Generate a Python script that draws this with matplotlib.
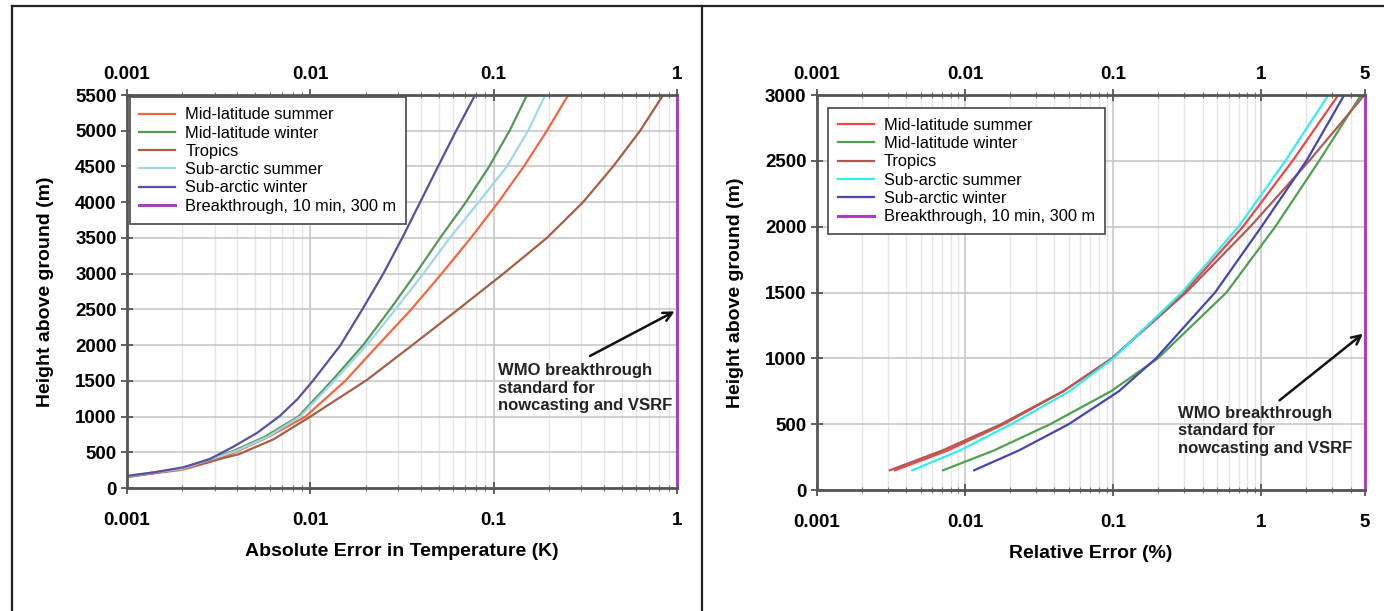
import matplotlib.pyplot as plt
from matplotlib.lines import Line2D
from matplotlib.ticker import LogLocator, NullFormatter, NullLocator, FixedLocator

plt.rcParams['font.family'] = ['Liberation Sans', 'DejaVu Sans']

# ---------- panel izquierdo: error absoluto (K) vs altura (m) ----------
mls_izq_x = [0.001, 0.0014, 0.002, 0.0028, 0.0038, 0.0058, 0.0094, 0.0155, 0.0234, 0.0355, 0.052, 0.075, 0.106, 0.146, 0.195, 0.255]
mls_izq_h = [160, 205, 255, 360, 490, 705, 1000, 1500, 2000, 2500, 3000, 3500, 4000, 4500, 5000, 5500]
mlw_izq_x = [0.001, 0.0014, 0.002, 0.0038, 0.00562, 0.0086, 0.0132, 0.0194, 0.0272, 0.0375, 0.051, 0.0705, 0.0945, 0.122, 0.152]
mlw_izq_h = [160, 218, 274, 518, 714, 1000, 1511, 2000, 2500, 3000, 3500, 4000, 4500, 5000, 5500]
tro_izq_x = [0.001, 0.002, 0.0041, 0.0063, 0.01, 0.0203, 0.036, 0.064, 0.113, 0.195, 0.307, 0.448, 0.629, 0.84]
tro_izq_h = [150, 270, 476, 682, 1000, 1511, 2000, 2500, 3000, 3500, 4000, 4500, 5000, 5500]
sas_izq_x = [0.001, 0.0014, 0.002, 0.0039, 0.0058, 0.0088, 0.0136, 0.0203, 0.0291, 0.0413, 0.0576, 0.0828, 0.118, 0.154, 0.191]
sas_izq_h = [160, 215, 270, 515, 712, 1000, 1511, 2000, 2500, 3000, 3500, 4000, 4500, 5000, 5500]
saw_izq_x = [0.001, 0.00141, 0.00203, 0.00282, 0.0038, 0.00513, 0.0068, 0.00851, 0.0104, 0.0146, 0.0192, 0.0250, 0.0317, 0.0397, 0.0497, 0.0624, 0.0792]
saw_izq_h = [170, 220, 290, 404, 578, 773, 1007, 1245, 1511, 2000, 2500, 3000, 3500, 4000, 4500, 5000, 5500]
brk_izq_x = [1, 1]
brk_izq_h = [0, 5500]

# ---------- panel derecho: error relativo (%) vs altura (m) ----------
alt_der = [150, 300, 500, 750, 1000, 1500, 2000, 2500, 3000]
mls_der = [0.00336, 0.0076, 0.0182, 0.046, 0.098, 0.30, 0.75, 1.62, 3.3]
mlw_der = [0.0071, 0.0156, 0.0375, 0.0964, 0.20, 0.58, 1.24, 2.45, 4.7]
tro_der = [0.0031, 0.0070, 0.0175, 0.0457, 0.098, 0.31, 0.84, 2.1, 4.95]
sas_der = [0.0044, 0.0092, 0.0205, 0.0505, 0.10, 0.29, 0.70, 1.45, 2.83]
saw_der = [0.0115, 0.023, 0.05, 0.109, 0.194, 0.486, 1.0, 2.01, 3.62]
brk_der_x = [5, 5]
brk_der_h = [0, 3000]

etiquetas = ['Mid-latitude summer', 'Mid-latitude winter', 'Tropics',
             'Sub-arctic summer', 'Sub-arctic winter', 'Breakthrough, 10 min, 300 m']
colores_izq = ['#f5653f', '#54995a', '#a65f45', '#9fd6ea', '#5a4fa0', '#a044b8']
colores_der = ['#f04545', '#4fa04f', '#b05a55', '#30eef2', '#4545b0', '#a840c0']

ticks_izq_x = [0.001, 0.01, 0.1, 1]
ticks_der_x = [0.001, 0.01, 0.1, 1, 5]
ticks_izq_y = list(range(0, 5501, 500))
ticks_der_y = list(range(0, 3001, 500))

texto_wmo = 'WMO breakthrough\nstandard for\nnowcasting and VSRF'

fig = plt.figure(figsize=(13.84, 6.11), dpi=100)

# marco tipo tabla
for xs, ys in [([0.0087, 0.0087], [0, 0.990]), ([0.507, 0.507], [0, 0.990]), ([0.0087, 1.0], [0.990, 0.990])]:
    fig.add_artist(Line2D(xs, ys, color='#222222', lw=1.6, transform=fig.transFigure))


def armar_panel(ax, series, colores, brk, xlim, ylim, xticks, yticks, xlabel,
                flecha, pos_texto, pos_leyenda, pad_leyenda):
    for (x, y), c, lab in zip(series, colores, etiquetas[:5]):
        ax.plot(x, y, color=c, lw=1.6, label=lab)
    ax.plot(brk[0], brk[1], color=colores[5], lw=2.2, label=etiquetas[5], clip_on=False)

    ax.set_xscale('log')
    ax.set_xlim(*xlim)
    ax.set_ylim(*ylim)
    ax.xaxis.set_major_locator(FixedLocator(xticks))
    ax.set_xticklabels([f'{t:g}' for t in xticks])
    ax.xaxis.set_minor_locator(LogLocator(base=10, subs=range(2, 10)))
    ax.xaxis.set_minor_formatter(NullFormatter())
    ax.set_yticks(yticks)

    ax.grid(which='major', color='#c8c8c8', lw=1.2)
    ax.grid(which='minor', axis='x', color='#e6e6e6', lw=1.0)
    ax.set_axisbelow(True)

    for lado in ['left', 'top', 'bottom']:
        ax.spines[lado].set_color('#555555')
        ax.spines[lado].set_linewidth(2.0)
    ax.spines['right'].set_visible(False)

    ax.tick_params(which='major', direction='inout', length=9, width=1.3, color='#555555',
                   labelsize=13.5, top=True, right=False)
    ax.tick_params(which='minor', direction='inout', length=4, width=0.8, color='#777777',
                   top=True, left=False, right=False)
    ax.tick_params(axis='x', which='major', pad=13)
    ax.tick_params(axis='y', which='major', pad=3)
    for t in ax.get_xticklabels() + ax.get_yticklabels():
        t.set_fontweight('bold')

    # etiquetas de arriba
    sec = ax.secondary_xaxis('top')
    sec.xaxis.set_major_locator(FixedLocator(xticks))
    sec.set_xticklabels([f'{t:g}' for t in xticks], fontweight='bold')
    sec.xaxis.set_minor_locator(NullLocator())
    sec.tick_params(length=0, labelsize=13.5, pad=9)
    sec.spines['top'].set_visible(False)

    ax.set_xlabel(xlabel, fontsize=14, fontweight='bold', labelpad=10)
    ax.set_ylabel('Height above ground (m)', fontsize=14, fontweight='bold', labelpad=15)

    leg = ax.legend(loc='upper left', bbox_to_anchor=pos_leyenda, fontsize=11.8,
                    labelspacing=0.2, handlelength=2.2, handletextpad=0.6, borderpad=0.6,
                    borderaxespad=pad_leyenda, fancybox=False, framealpha=1,
                    edgecolor='#555555')
    leg.get_frame().set_linewidth(1.3)

    ax.annotate('', xy=flecha[0], xytext=flecha[1],
                arrowprops=dict(arrowstyle='->', color='#111111', lw=1.8,
                                mutation_scale=16))
    ax.text(pos_texto[0], pos_texto[1], texto_wmo, fontsize=12, fontweight='bold',
            va='top', ha='left', linespacing=1.2, color='#222222')


ax1 = fig.add_axes([0.0918, 0.2013, 0.3974, 0.6432])
armar_panel(ax1,
            [(mls_izq_x, mls_izq_h), (mlw_izq_x, mlw_izq_h), (tro_izq_x, tro_izq_h),
             (sas_izq_x, sas_izq_h), (saw_izq_x, saw_izq_h)],
            colores_izq, (brk_izq_x, brk_izq_h), (0.001, 1), (0, 5500),
            ticks_izq_x, ticks_izq_y, 'Absolute Error in Temperature (K)',
            ((1, 2490), (0.325, 1830)), (0.106, 1745), (0.0, 1.0), 0.15)

ax2 = fig.add_axes([0.5903, 0.1980, 0.3960, 0.6465])
armar_panel(ax2,
            [(mls_der, alt_der), (mlw_der, alt_der), (tro_der, alt_der),
             (sas_der, alt_der), (saw_der, alt_der)],
            colores_der, (brk_der_x, brk_der_h), (0.001, 5), (0, 3000),
            ticks_der_x, ticks_der_y, 'Relative Error (%)',
            ((5, 1200), (1.28, 668)), (0.275, 640), (0.02, 0.967), 0.0)

fig.savefig('out.png', dpi=100)
